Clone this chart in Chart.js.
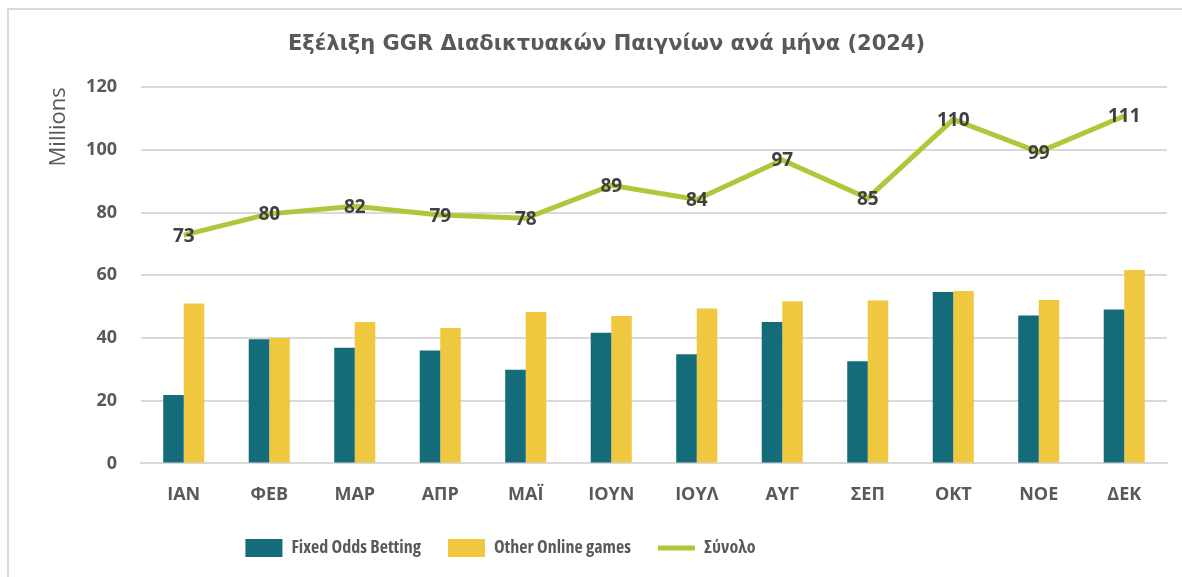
<!DOCTYPE html>
<html>
<head>
<meta charset="utf-8">
<script src="https://cdn.jsdelivr.net/npm/chart.js@4"></script>
<style>
  html, body { margin: 0; padding: 0; background: #fff; }
  #wrap { position: absolute; left: 7px; top: 8px; width: 1180px; height: 575px;
          border-left: 2px solid #d9d9d9; border-top: 2px solid #d9d9d9; }
  #box { position: absolute; left: 0; top: 0; width: 1182px; height: 577px; }
</style>
</head>
<body>
<div id="wrap"></div>
<div id="box"><canvas id="ggrChart"></canvas></div>
<script>
var months = ['ΙΑΝ', 'ΦΕΒ', 'ΜΑΡ', 'ΑΠΡ', 'ΜΑΪ', 'ΙΟΥΝ', 'ΙΟΥΛ', 'ΑΥΓ', 'ΣΕΠ', 'ΟΚΤ', 'ΝΟΕ', 'ΔΕΚ'];
var fixedOdds = [21.8, 39.6, 36.9, 36.0, 29.9, 41.7, 34.8, 45.1, 32.6, 54.7, 47.2, 49.1];
var otherGames = [51.0, 40.0, 45.1, 43.2, 48.3, 47.0, 49.4, 51.7, 52.0, 55.0, 52.1, 61.7];
var totals = [72.8, 79.6, 82.0, 79.2, 78.2, 88.7, 84.2, 96.8, 84.6, 109.7, 99.3, 110.8];
var yTicks = [0, 20, 40, 60, 80, 100, 120];

var textGrey = '#595959';
var labelFont = "'Open Sans', 'Noto Sans', sans-serif";

// draw the rounded totals on the line points
var lineLabels = {
    id: 'lineLabels',
    afterDatasetsDraw: function(chart) {
        var ctx = chart.ctx;
        var meta = chart.getDatasetMeta(2);
        ctx.save();
        ctx.font = "bold 19px " + labelFont;
        ctx.fillStyle = '#404040';
        ctx.textAlign = 'center';
        ctx.textBaseline = 'middle';
        meta.data.forEach(function(pt, i) {
            ctx.fillText(Math.round(totals[i]), pt.x, pt.y + 1);
        });
        ctx.restore();
    }
};

// the legend sits left of centre in the original
var legendShift = {
    id: 'legendShift',
    afterLayout: function(chart) {
        chart.legend.left -= 106;
        chart.legend.right -= 106;
    }
};

var ctx = document.getElementById('ggrChart').getContext('2d');
var chart = new Chart(ctx, {
    type: 'bar',
    data: {
        labels: months,
        datasets: [{
            label: 'Fixed Odds Betting',
            data: fixedOdds,
            backgroundColor: '#146b7a',
            pointStyle: 'rect',
            order: 2
        }, {
            label: 'Other Online games',
            data: otherGames,
            backgroundColor: '#f0c840',
            pointStyle: 'rect',
            order: 2
        }, {
            type: 'line',
            label: 'Σύνολο',
            data: totals,
            borderColor: '#b0c73c',
            backgroundColor: '#b0c73c',
            borderWidth: 5,
            pointRadius: 0,
            pointStyle: 'line',
            tension: 0,
            order: 1
        }]
    },
    options: {
        responsive: true,
        maintainAspectRatio: false,
        animation: false,
        layout: { padding: { left: 46, right: 15, top: 0, bottom: 10 } },
        datasets: {
            bar: { categoryPercentage: 0.48, barPercentage: 1.0 }
        },
        scales: {
            x: {
                grid: { display: false },
                border: { display: true, color: '#d9d9d9', width: 2 },
                afterFit: function(scale) { scale.height = scale.height - 7; },
                ticks: {
                    color: textGrey,
                    padding: 13,
                    font: { family: labelFont, size: 18, weight: 'bold' }
                }
            },
            y: {
                min: 0,
                max: 120,
                afterFit: function(scale) { scale.width = 95; },
                afterBuildTicks: function(scale) {
                    scale.ticks = yTicks.map(function(v) { return { value: v }; });
                },
                grid: { color: '#d9d9d9', lineWidth: 2, drawTicks: false },
                border: { display: false },
                ticks: {
                    color: textGrey,
                    padding: 24,
                    font: { family: labelFont, size: 18, weight: 'bold' }
                },
                title: {
                    display: true,
                    text: 'Millions',
                    align: 'end',
                    color: textGrey,
                    padding: { top: 0, bottom: 0 },
                    font: { family: labelFont, size: 22, weight: 'normal' }
                }
            }
        },
        plugins: {
            title: {
                display: true,
                text: 'Εξέλιξη GGR Διαδικτυακών Παιγνίων ανά μήνα (2024)',
                color: textGrey,
                padding: { top: 32, bottom: 30 },
                font: { family: "'DejaVu Sans', Verdana, sans-serif", size: 21, weight: 'bold' }
            },
            legend: {
                position: 'bottom',
                labels: {
                    usePointStyle: true,
                    pointStyleWidth: 37,
                    boxHeight: 18,
                    padding: 27,
                    color: textGrey,
                    sort: function(a, b) { return a.datasetIndex - b.datasetIndex; },
                    font: { family: labelFont, size: 18, weight: 'bold condensed' }
                }
            },
            tooltip: { enabled: false }
        }
    },
    plugins: [lineLabels, legendShift]
});
</script>
</body>
</html>
